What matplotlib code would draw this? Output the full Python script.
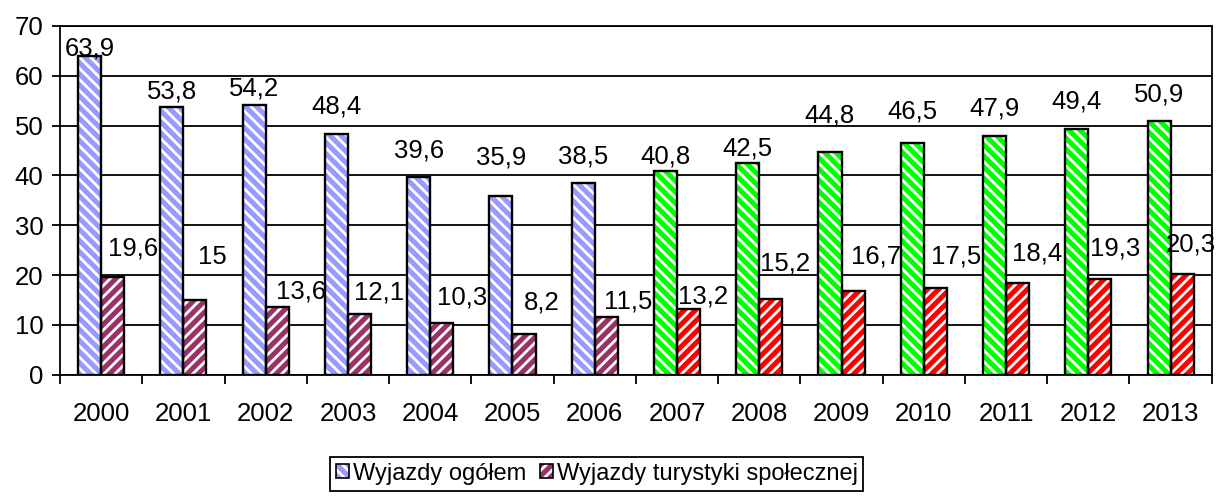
import matplotlib
matplotlib.use("Agg")
import matplotlib.pyplot as plt
from matplotlib.patches import Patch
from matplotlib.legend_handler import HandlerTuple

years = ["2000", "2001", "2002", "2003", "2004", "2005", "2006",
         "2007", "2008", "2009", "2010", "2011", "2012", "2013"]
ogolem = [63.9, 53.8, 54.2, 48.4, 39.6, 35.9, 38.5,
          40.8, 42.5, 44.8, 46.5, 47.9, 49.4, 50.9]
spoleczna = [19.6, 15, 13.6, 12.1, 10.3, 8.2, 11.5,
             13.2, 15.2, 16.7, 17.5, 18.4, 19.3, 20.3]
series_names = ["Wyjazdy ogółem", "Wyjazdy turystyki społecznej"]

# label placement (as in the original Excel chart, labels were nudged by hand)
dy_ogolem = [1.6, 3.0, 3.3, 5.4, 5.5, 7.6, 5.4, 3.1, 3.0, 7.3, 6.3, 5.6, 5.4, 5.4]
dy_spol = [5.8, 8.7, 3.1, 4.4, 5.1, 6.2, 3.2, 2.5, 7.2, 7.0, 6.2, 6.0, 6.1, 5.8]
dx_spol = [20, 17, 24, 20, 20, 18, 22, 15, 14, 23, 21, 20, 15, 9]  # pixels

plt.rcParams["font.family"] = ["Liberation Sans", "DejaVu Sans"]
plt.rcParams["hatch.linewidth"] = 2.0
FS = 18.5

fig = plt.figure(figsize=(12.18, 4.96), dpi=100)
ax = fig.add_axes([0.0493, 0.2446, 0.9455, 0.703])

x = list(range(len(years)))
w = 0.28
# first 7 years one colour scheme, later years another
blue_cols = ["#9999FF"] * 7 + ["#00FF00"] * 7
red_cols = ["#993366"] * 7 + ["#FF0000"] * 7

xb = [i - 0.14 for i in x]
xr = [i + 0.14 for i in x]
ax.bar(xb, ogolem, w, color=blue_cols, edgecolor="white", hatch="\\\\\\", linewidth=0, zorder=3)
ax.bar(xb, ogolem, w, fill=False, edgecolor="black", linewidth=1.7, zorder=4)
ax.bar(xr, spoleczna, w, color=red_cols, edgecolor="white", hatch="///", linewidth=0, zorder=3)
ax.bar(xr, spoleczna, w, fill=False, edgecolor="black", linewidth=1.7, zorder=4)

def fmt(v):
    return f"{v:g}".replace(".", ",")

for i in x:
    ax.text(xb[i], ogolem[i] + dy_ogolem[i], fmt(ogolem[i]), ha="center", va="center",
            fontsize=FS, zorder=5)
    ax.annotate(fmt(spoleczna[i]), (xr[i], spoleczna[i] + dy_spol[i]),
                xytext=(dx_spol[i], 0), textcoords="offset pixels",
                ha="center", va="center", fontsize=FS, zorder=5)

ax.set_ylim(0, 70)
ax.set_xlim(-0.5, len(years) - 0.5)
ax.set_yticks(range(0, 71, 10))
ax.yaxis.grid(True, color="black", linewidth=1.3)
ax.set_axisbelow(True)
ax.tick_params(axis="y", labelsize=FS, length=6, width=1.3, pad=6, direction="out")

ax.set_xticks(x)
ax.set_xticklabels(years)
ax.set_xticks([i - 0.5 for i in range(len(years) + 1)], minor=True)
ax.tick_params(axis="x", which="major", length=0, labelsize=FS, pad=20)
ax.tick_params(axis="x", which="minor", length=6.5, width=1.3, direction="out")
for s in ax.spines.values():
    s.set_linewidth(1.3)
    s.set_color("black")

h1 = (Patch(facecolor="#9999FF", edgecolor="white", hatch="\\\\\\", linewidth=0),
      Patch(fill=False, edgecolor="black", linewidth=1.2))
h2 = (Patch(facecolor="#993366", edgecolor="white", hatch="///", linewidth=0),
      Patch(fill=False, edgecolor="black", linewidth=1.2))
leg = fig.legend([h1, h2], series_names, loc="upper center",
                 bbox_to_anchor=(0.49, 0.079), ncol=2, fontsize=17,
                 handler_map={tuple: HandlerTuple(ndivide=1, pad=0)},
                 handlelength=0.55, handleheight=0.55, handletextpad=0.15,
                 columnspacing=0.6, borderpad=0.25, borderaxespad=0,
                 fancybox=False, edgecolor="black", framealpha=1)
leg.get_frame().set_linewidth(1.3)

fig.savefig("out.png", dpi=100)
